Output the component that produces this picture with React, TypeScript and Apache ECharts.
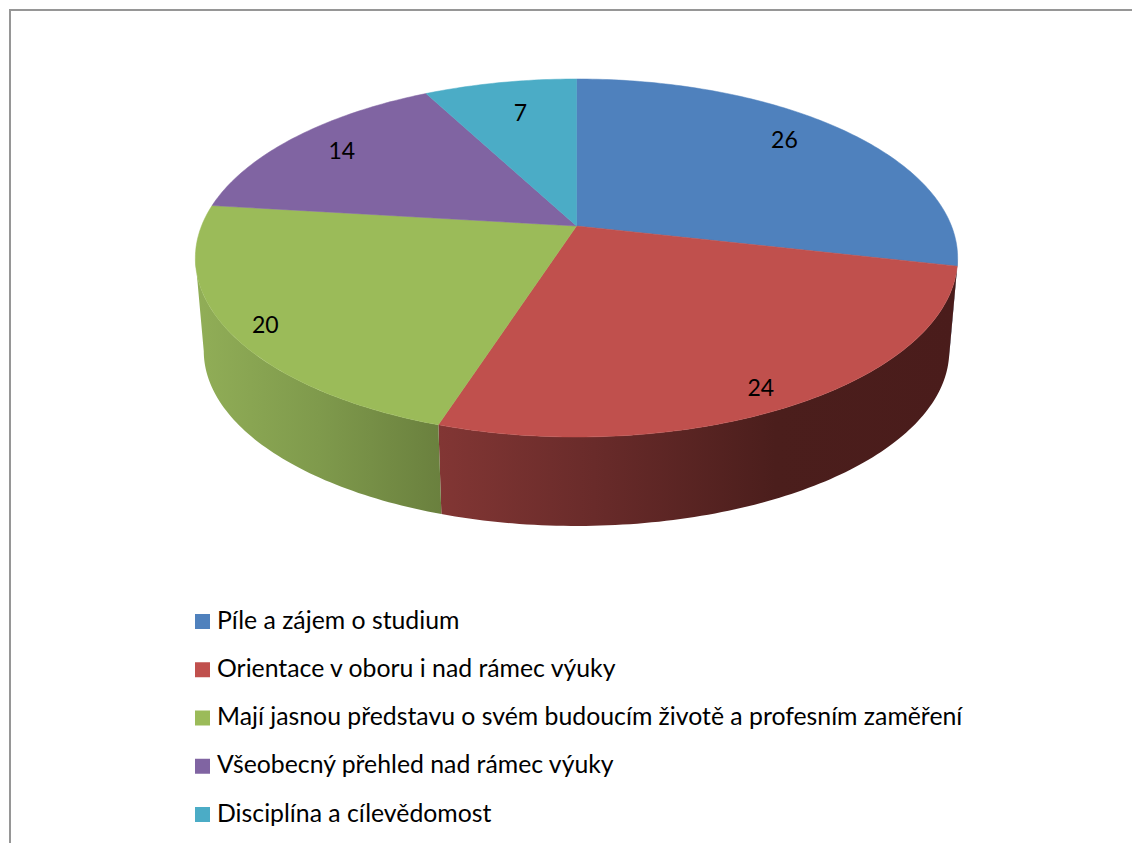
import React, { useEffect, useRef } from "react";
import * as echarts from "echarts";

const categories = [
  "Píle a zájem o studium",
  "Orientace v oboru i nad rámec výuky",
  "Mají jasnou představu o svém budoucím životě a profesním zaměření",
  "Všeobecný přehled nad rámec výuky",
  "Disciplína a cílevědomost",
];
const values = [26, 24, 20, 14, 7];
const topColors = ["#4f81bd", "#c0504d", "#9bbb59", "#8064a2", "#4bacc6"];
const sideStops: [number, string][][] = [
  [[0, "#2f4d71"], [1, "#263e5c"]],
  [[0, "#823634"], [0.3, "#692b2a"], [0.65, "#4b1e1c"], [1, "#4a1c1b"]],
  [[0, "#91ae57"], [0.5, "#7f9a4c"], [1, "#6a803e"]],
  [[0, "#4c3c61"], [1, "#4c3c61"]],
  [[0, "#2d6776"], [1, "#2d6776"]],
];
const labelFactorX = [0.77, 0.86, 0.9, 0.824, 0.7];
const labelFactorY = [0.88, 0.918, 0.955, 0.835, 0.77];

const FONT = "Lato";
const total = values.reduce((a, b) => a + b, 0);
const cx = 576.5;
const cy = 226;
const RX = 375;
const RY = 173.3;
const K = 0.1787;
const BASE_SCALE = 0.978;
const BASE_Y = 319.6;
const SIL = Math.acos(-K);

function project(a: number, f = 1): [number, number] {
  const u = Math.sin(a) * f;
  const v = -Math.cos(a) * f;
  const d = 1 - K * v;
  return [cx + (RX * u) / d, cy + (RY * v) / d];
}
function baseOf(p: [number, number]): [number, number] {
  return [cx + (p[0] - cx) * BASE_SCALE, BASE_Y + (p[1] - cy) * BASE_SCALE];
}
function arc(a0: number, a1: number): [number, number][] {
  const n = Math.max(2, Math.ceil(Math.abs(a1 - a0) * 60));
  const pts: [number, number][] = [];
  for (let i = 0; i <= n; i++) pts.push(project(a0 + ((a1 - a0) * i) / n));
  return pts;
}

function renderSlice(params: any, api: any) {
  const i = params.seriesIndex;
  const value = api.value(0);
  const before = api.value(1);
  const a0 = (before / total) * Math.PI * 2;
  const a1 = ((before + value) / total) * Math.PI * 2;
  const children: any[] = [];

  const s0 = Math.max(a0, SIL);
  const s1 = Math.min(a1, Math.PI * 2 - SIL);
  if (s1 > s0) {
    const rim = arc(s0, s1);
    children.push({
      type: "polygon",
      shape: { points: [...rim, ...rim.map(baseOf).reverse()] },
      style: {
        fill: new echarts.graphic.LinearGradient(
          0,
          0,
          1,
          0,
          sideStops[i].map(([offset, color]) => ({ offset, color })),
        ),
      },
    });
  }

  children.push({
    type: "polygon",
    shape: { points: [[cx, cy], ...arc(a0, a1)] },
    style: { fill: topColors[i], stroke: topColors[i], lineWidth: 0.5 },
  });

  const mid = (a0 + a1) / 2;
  children.push({
    type: "text",
    style: {
      text: String(value),
      x: project(mid, labelFactorX[i])[0],
      y: project(mid, labelFactorY[i])[1],
      align: "center",
      verticalAlign: "middle",
      fontFamily: FONT,
      fontSize: 23,
      fill: "#000000",
    },
  });
  return { type: "group", children };
}

export default function App() {
  const ref = useRef<HTMLDivElement>(null);
  useEffect(() => {
    const chart = echarts.init(ref.current!, null, { renderer: "svg" });
    let running = 0;
    const series = categories.map((name, i) => {
      const row = [values[i], running];
      running += values[i];
      return {
        type: "custom",
        name,
        coordinateSystem: "none",
        silent: true,
        itemStyle: { color: topColors[i] },
        renderItem: renderSlice,
        data: [row],
      };
    });
    chart.setOption({
      animation: false,
      backgroundColor: "#ffffff",
      legend: {
        orient: "vertical",
        left: 195,
        top: 606.5,
        padding: 0,
        icon: "rect",
        itemWidth: 15,
        itemHeight: 15,
        itemGap: 18.25,
        selectedMode: false,
        formatter: (name: string) => `{a|${name}}`,
        textStyle: {
          rich: {
            a: { fontFamily: FONT, fontSize: 24.8, color: "#000000", padding: [0, 0, 5, 2], lineHeight: 25 },
          },
        },
        data: categories,
      },
      graphic: [
        {
          type: "polyline",
          shape: { points: [[10, 843], [10, 10], [1132, 10]] },
          style: { stroke: "#969696", lineWidth: 2, fill: "none" },
        },
      ],
      series,
    });
    return () => chart.dispose();
  }, []);
  return <div ref={ref} style={{ position: "absolute", left: 0, top: 0, width: 1132, height: 843 }} />;
}
